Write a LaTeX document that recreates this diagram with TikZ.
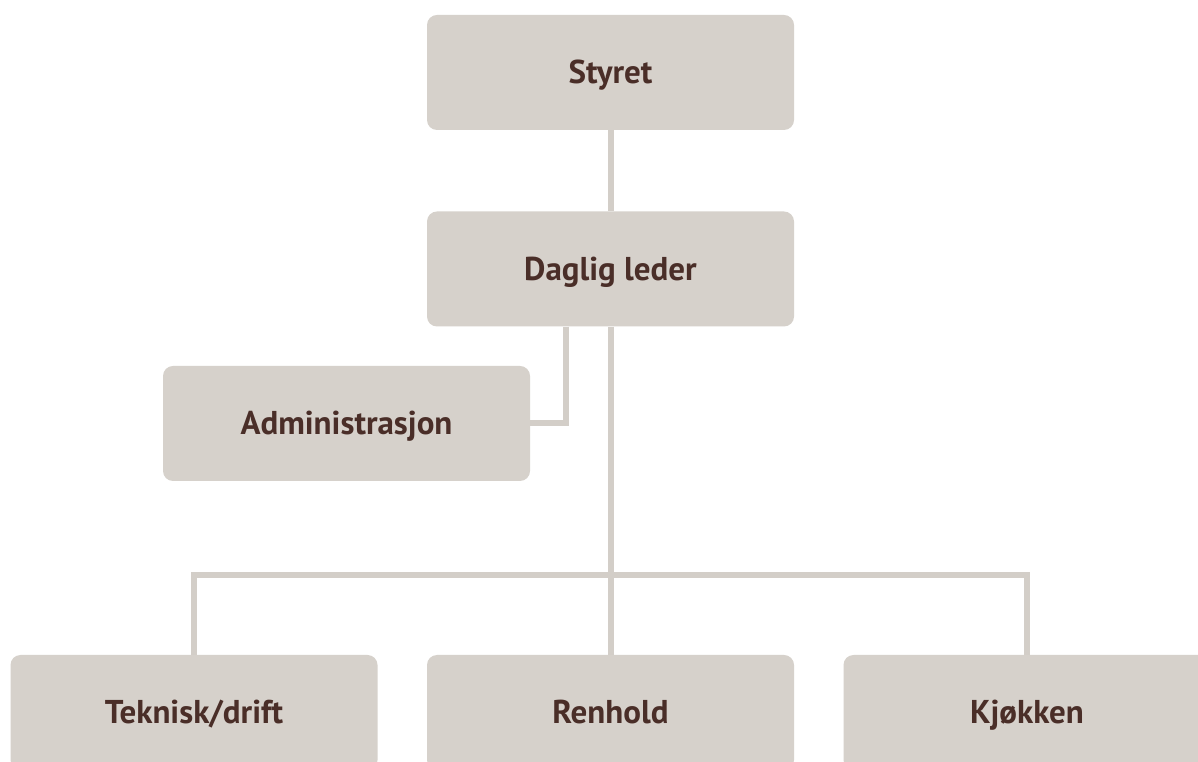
\documentclass[tikz,border=0pt]{standalone}
\usepackage{fontspec}
\setmainfont{PT Sans}
\definecolor{boxfill}{HTML}{D6D1CB}
\definecolor{linecol}{HTML}{D3CEC8}
\definecolor{txt}{HTML}{4A2E28}
\begin{document}
\begin{tikzpicture}[x=1pt,y=1pt,
  orgbox/.style={fill=boxfill, rounded corners=10pt, minimum width=367pt, minimum height=115pt,
    inner sep=0pt, text=txt, text height=30pt, text depth=7pt,
    font=\fontsize{33}{38}\selectfont\bfseries},
  conn/.style={draw=linecol, line width=6pt}]
\useasboundingbox (0,0) rectangle (1198,762);
\fill[white] (0,0) rectangle (1198,762);
\node[orgbox] (styret) at (610.5,689.5) {Styret};
\node[orgbox] (daglig) at (610.5,493) {Daglig leder};
\node[orgbox] (admin) at (346.5,338.5) {Administrasjon};
\node[orgbox] (teknisk) at (194,49.5) {Teknisk/drift};
\node[orgbox] (renhold) at (610.5,49.5) {Renhold};
\node[orgbox] (kjokken) at (1027,49.5) {Kjøkken};
\coordinate (bus) at (610.5,187);
\draw[conn] (styret.south) -- (daglig.north);
\draw[conn] ([xshift=-44.5pt]daglig.south) |- (admin.east);
\draw[conn] (daglig.south) -- (renhold.north);
\draw[conn] (teknisk.north) -- (teknisk.north |- bus) -- (kjokken.north |- bus) -- (kjokken.north);
\end{tikzpicture}
\end{document}
